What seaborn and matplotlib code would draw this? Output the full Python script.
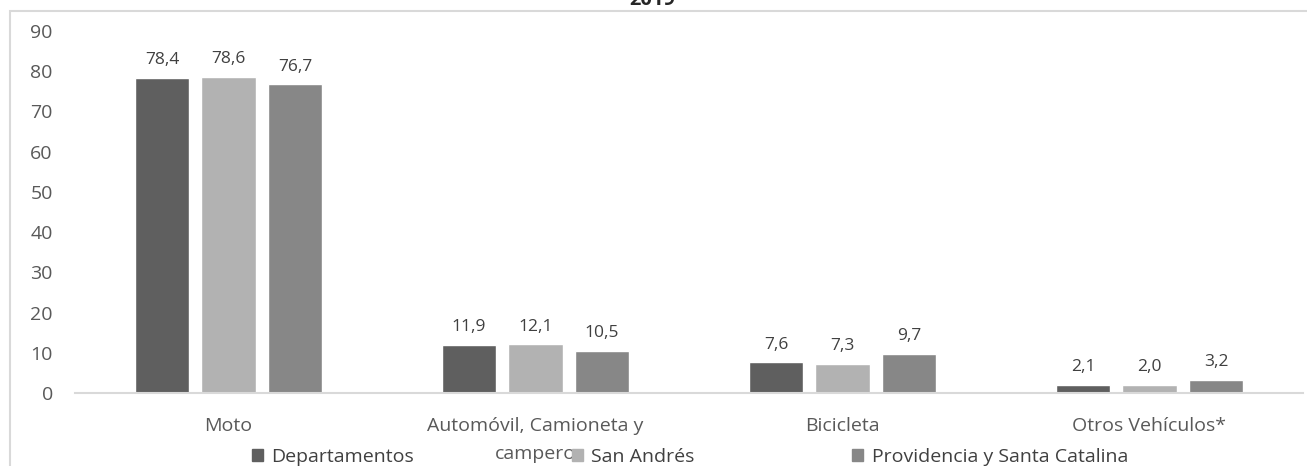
import pandas as pd
import numpy as np
import matplotlib
matplotlib.use('Agg')
import matplotlib.pyplot as plt
from matplotlib.patches import Rectangle
import seaborn as sns

# Data
categories = ['Moto', 'Automóvil, Camioneta y\ncampero', 'Bicicleta', 'Otros Vehículos*']
series = ['Departamentos', 'San Andrés', 'Providencia y Santa Catalina']
departamentos = [78.4, 11.9, 7.6, 2.1]
san_andres = [78.6, 12.1, 7.3, 2.0]
providencia = [76.7, 10.5, 9.7, 3.2]
y_ticks = [0, 10, 20, 30, 40, 50, 60, 70, 80, 90]

colors = ['#5f5f5f', '#b2b2b2', '#878787']

df = pd.DataFrame({
    'categoria': categories * 3,
    'serie': [series[0]] * 4 + [series[1]] * 4 + [series[2]] * 4,
    'valor': departamentos + san_andres + providencia,
})

sns.set_theme(style='white')
plt.rcParams['font.family'] = ['Open Sans', 'DejaVu Sans']

fig = plt.figure(figsize=(13.07, 4.66), dpi=100)
ax = fig.add_axes([75 / 1307, 1 - 393 / 466, 1228 / 1307, 362 / 466])

sns.barplot(data=df, x='categoria', y='valor', hue='serie', palette=colors,
            width=0.65, gap=0.18, saturation=1, ax=ax)

# data labels with decimal comma
for cont in ax.containers:
    ax.bar_label(cont, labels=[f'{v:.1f}'.replace('.', ',') for v in cont.datavalues],
                 padding=7, fontsize=12.5, color='#404040')

ax.set_ylim(0, 90)
ax.set_xlim(-0.5, 3.5)
ax.set_yticks(y_ticks)
ax.set_xlabel('')
ax.set_ylabel('')
ax.tick_params(axis='y', length=0, pad=16, labelsize=14, labelcolor='#595959')
ax.tick_params(axis='x', length=0, pad=17, labelsize=14, labelcolor='#595959')
for lbl in ax.get_xticklabels():
    lbl.set_linespacing(1.75)
for s in ['left', 'right', 'top']:
    ax.spines[s].set_visible(False)
ax.spines['bottom'].set_color('#d9d9d9')
ax.spines['bottom'].set_linewidth(1.5)

ax.get_legend().remove()
handles = [Rectangle((0, 0), 1, 1, color=c) for c in colors]
fig.legend(handles, series, loc='center', bbox_to_anchor=(0.528, 1 - 457 / 466),
           ncol=3, frameon=False, fontsize=14, handlelength=0.55, handleheight=0.55,
           handletextpad=0.45, columnspacing=8.1, labelcolor='#404040')

# chart frame (partly cropped in the reference)
fig.patches.append(Rectangle((10 / 1307, -0.1), 1.2, 1.1 - 11 / 466,
                             transform=fig.transFigure, fill=False,
                             edgecolor='#d9d9d9', linewidth=1.5))
fig.text(0.499, 1.0, '2019', ha='center', va='center', fontsize=14.5,
         fontweight='bold', color='#262626')

fig.savefig('out.png', dpi=100)
